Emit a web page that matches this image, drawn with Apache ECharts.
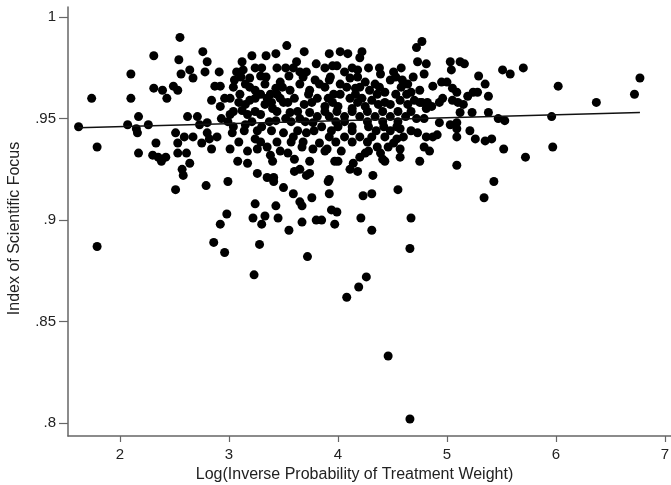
<!DOCTYPE html>
<html>
<head>
<meta charset="utf-8">
<script src="https://cdn.jsdelivr.net/npm/echarts@6/dist/echarts.min.js"></script>
<style>
html,body{margin:0;padding:0;background:#fff;}
#chart{width:671px;height:485px;}
</style>
</head>
<body>
<div id="chart"></div>
<script>
// Log(IPTW) values
const xs = [
1.62,1.74,2.55,2.31,2.54,2.76,2.80,2.10,2.64,2.56,2.67,2.78,2.10,2.31,2.39,2.43,2.49,2.53,2.17,2.07,
2.15,2.16,2.26,1.79,2.33,2.51,2.53,2.59,2.67,2.62,2.71,2.73,2.80,2.75,2.80,1.79,2.17,2.30,2.35,2.38,
2.42,2.53,2.61,2.64,2.57,2.58,2.51,2.79,
3.53,2.91,3.21,3.34,3.43,3.69,3.80,3.12,3.07,3.13,3.30,3.29,3.52,3.55,3.62,3.65,3.71,2.87,2.92,2.84,2.96,2.92,
4.77,4.72,4.73,4.81,3.92,4.02,4.09,4.22,4.20,3.95,3.99,4.28,4.51,4.59,4.64,4.48,4.79,
5.03,5.04,5.12,5.16,5.51,5.58,5.70,5.29,5.35,5.38,4.87,4.95,5.00,5.05,5.09,5.19,5.24,5.28,4.96,5.05,5.10,4.77,4.86,
6.02,6.37,6.77,6.72,5.96,5.97,
3.01,3.12,3.17,3.04,3.03,3.30,3.26,3.24,2.82,2.89,2.84,3.01,3.17,3.26,3.35,3.38,3.40,3.08,3.17,3.26,3.35,3.41,2.99,3.50,
3.54,3.60,3.65,3.71,3.60,3.50,3.56,3.65,3.74,3.77,3.71,3.59,3.50,3.67,3.77,3.35,3.40,3.19,3.74,
4.64,4.75,4.81,4.72,4.79,4.57,4.60,4.54,4.73,4.79,4.57,4.75,4.41,4.43,4.32,4.14,4.11,4.18,4.00,3.97,3.92,4.20,4.25,4.36,
4.39,4.46,4.51,4.57,3.90,3.83,3.74,4.55,
4.93,5.15,5.12,5.23,5.38,5.47,5.53,4.93,5.03,5.09,5.09,4.81,4.87,4.91,4.84,5.09,5.21,5.26,5.35,5.41,5.52,5.72,5.09,5.43,
3.41,3.59,3.65,3.67,3.76,3.91,3.92,4.23,4.31,3.24,3.43,2.98,2.92,3.22,3.33,3.30,3.45,3.55,3.67,3.80,3.85,3.94,3.99,3.97,
4.21,4.31,2.86,2.96,3.28,3.72,3.23,4.26,4.19,4.08,5.34,4.67,4.66,4.46,4.66,
3.05,3.15,3.24,3.19,3.33,3.43,3.38,3.47,3.56,3.65,3.74,3.79,3.10,3.24,3.33,3.47,3.60,3.69,3.81,3.01,3.15,
3.83,3.92,4.02,4.11,4.16,4.25,4.34,4.39,4.43,4.53,4.67,4.70,3.91,4.02,4.11,4.22,4.31,4.06,4.18,4.29,4.57,4.75,
3.88,4.00,4.13,4.25,4.37,4.48,
3.81,3.92,4.06,4.20,4.34,4.48,4.62,3.85,4.00,4.13,4.28,4.42,4.54,3.92,4.06,4.20,4.31,4.43,
2.93,3.29,3.43,3.15,3.52,
3.24,3.44,3.59,3.88,4.13,4.38,4.58,
3.11,3.34,3.68,3.93,4.18,4.53,4.69,
3.04,3.19,3.49,3.88,4.08,4.20,4.38,4.58,
3.29,3.44,3.73,3.96,4.16,4.36,4.63,
3.09,3.39,3.54,3.76,3.95,4.18,4.43,4.82,
3.04,3.24,3.44,3.63,3.88,3.99,4.13,4.27,4.41,4.55,4.67,
2.99,3.21,3.37,3.57,3.70,3.98,4.06,4.27,4.41,4.55,
3.14,3.39,3.63,3.78,3.94,4.13,4.35,4.48,4.67,
3.09,3.29,3.44,3.57,3.68,3.98,4.13,4.27,
3.47,3.88,4.03,4.28
];
// Index of Scientific Focus values
const ys = [
.946,.960,.990,.981,.979,.983,.978,.972,.974,.972,.970,.973,.960,.965,.964,.960,.966,.964,.951,.947,
.945,.943,.947,.936,.938,.943,.938,.941,.941,.951,.951,.947,.948,.938,.943,.887,.933,.932,.931,.929,
.931,.933,.933,.928,.925,.922,.915,.917,
.986,.973,.981,.981,.982,.983,.977,.978,.973,.974,.975,.971,.975,.971,.978,.973,.973,.966,.966,.959,.960,.956,
.988,.985,.978,.977,.982,.983,.982,.983,.980,.976,.976,.975,.973,.969,.967,.969,.972,
.978,.974,.978,.977,.974,.972,.975,.971,.967,.961,.966,.968,.968,.965,.963,.961,.963,.963,.960,.959,.958,.958,.956,
.966,.958,.970,.962,.951,.936,
.952,.954,.952,.946,.943,.946,.944,.940,.940,.941,.935,.935,.934,.935,.936,.932,.929,.929,.928,.923,.921,.921,.919,.916,
.933,.930,.925,.922,.924,.958,.953,.950,.953,.948,.943,.941,.943,.936,.935,.960,.955,.959,.929,
.957,.958,.955,.950,.950,.945,.941,.940,.943,.936,.931,.929,.930,.929,.922,.928,.925,.924,.929,.929,.920,.931,.933,.936,
.933,.936,.938,.935,.935,.938,.923,.915,
.958,.957,.953,.953,.953,.950,.949,.948,.947,.948,.945,.941,.941,.942,.934,.941,.944,.940,.939,.940,.935,.931,.927,.919,
.919,.913,.909,.907,.911,.919,.913,.912,.913,.908,.907,.903,.898,.901,.902,.898,.901,.895,.899,.900,.900,.905,.904,.898,
.901,.895,.889,.884,.888,.882,.873,.872,.867,.862,.911,.901,.886,.833,.802,
.969,.967,.964,.970,.967,.965,.962,.968,.964,.967,.964,.969,.962,.960,.957,.960,.960,.957,.960,.960,.957,
.967,.969,.967,.970,.965,.968,.967,.972,.963,.962,.963,.959,.960,.962,.960,.960,.959,.973,.974,.964,.959,.964,
.956,.956,.955,.956,.957,.957,
.951,.951,.951,.951,.951,.951,.951,.946,.946,.946,.946,.946,.946,.941,.941,.941,.941,.941,
.950,.952,.949,.947,.950,
.975,.975,.975,.975,.975,.975,.975,
.9705,.9705,.9705,.9705,.9705,.9705,.9705,
.9655,.9655,.9655,.9655,.9655,.9655,.9655,.9655,
.962,.962,.962,.962,.962,.962,.962,
.958,.958,.958,.958,.958,.958,.958,.958,
.9535,.9535,.9535,.9535,.9535,.9535,.9535,.9535,.9535,.9535,.9535,
.9485,.9485,.9485,.9485,.9485,.9485,.9485,.9485,.9485,.9485,
.944,.944,.944,.944,.944,.944,.944,.944,.944,
.9385,.9385,.9385,.9385,.9385,.9385,.9385,.9385,
.934,.934,.934,.934
];
// fitted line endpoints
const fitX = [1.62, 6.77];
const fitY = [0.9455, 0.9530];
const xTicks = [2,3,4,5,6,7];
const yTicks = [0.8,0.85,0.9,0.95,1];

const pts = xs.map((x,i)=>[x, ys[i]]);
const chart = echarts.init(document.getElementById('chart'));
const font = "'Liberation Sans', Arial, sans-serif";
chart.setOption({
  animation:false,
  backgroundColor:'#fff',
  grid:{left:68, top:7, right:0, bottom:49, containLabel:false, outerBoundsMode:'none'},
  xAxis:{
    type:'value', min:1.523, max:7.055,
    name:'Log(Inverse Probability of Treatment Weight)',
    nameLocation:'middle', nameGap:28,
    nameTextStyle:{color:'#222', fontSize:16, fontFamily:font, padding:[0,30,0,0]},
    axisLine:{show:true, onZero:false, lineStyle:{color:'#666', width:1.5}},
    axisTick:{show:true, length:6, customValues:xTicks, lineStyle:{color:'#666', width:1.2}},
    axisLabel:{customValues:xTicks, color:'#222', fontSize:15, fontFamily:font, margin:11},
    splitLine:{show:false}
  },
  yAxis:{
    type:'value', min:0.7936, max:1.005,
    name:'Index of Scientific Focus',
    nameLocation:'middle', nameGap:45, nameRotate:90,
    nameTextStyle:{color:'#222', fontSize:16, fontFamily:font, padding:[0,14,0,0]},
    axisLine:{show:true, onZero:false, lineStyle:{color:'#666', width:1.5}},
    axisTick:{show:true, length:9, customValues:yTicks, lineStyle:{color:'#666', width:1.2}},
    axisLabel:{customValues:yTicks, color:'#222', fontSize:15, fontFamily:font, margin:12,
      formatter:v=>{const s=String(+v.toFixed(2)); return s.startsWith('0')?s.slice(1):s;}},
    splitLine:{show:false}
  },
  series:[
    {type:'scatter', data:pts, symbolSize:9, itemStyle:{color:'#000', opacity:1}, z:2},
    {type:'line', data:fitX.map((x,i)=>[x,fitY[i]]), symbol:'none', lineStyle:{color:'#111', width:1.5}, z:3}
  ]
});
</script>
</body>
</html>
